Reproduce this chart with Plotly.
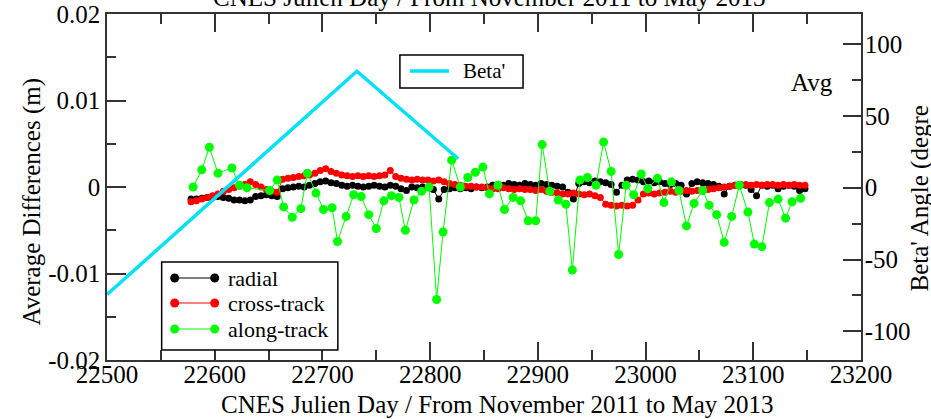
import plotly.graph_objects as go

# ---------------- data ----------------
days_rc = list(range(22578, 23149, 5))  # daily-ish sampling of radial / cross-track

radial = [
    -0.0014, -0.0014, -0.0013, -0.0012, -0.0012, -0.0011, -0.0012, -0.0013, -0.0015, -0.0015,
    -0.0016, -0.0015, -0.0011, -0.0010, -0.0009, -0.0010, -0.0011, -0.0002, -0.0001, 0.0000,
    0.0001, 0.0000, 0.0002, 0.0004, 0.0006, 0.0007, 0.0005, 0.0004, 0.0002, 0.0001,
    0.0002, 0.0001, 0.0000, 0.0001, 0.0002, 0.0001, 0.0000, 0.0002, 0.0001, -0.0002,
    -0.0004, 0.0000, -0.0001, 0.0000, -0.0001, -0.0003, -0.0014, -0.0003, -0.0002, -0.0001,
    -0.0002, -0.0001, -0.0002, 0.0000, -0.0001, 0.0000, 0.0002, 0.0003, 0.0002, 0.0004,
    0.0003, 0.0002, 0.0004, 0.0003, 0.0002, 0.0004, 0.0003, 0.0002, 0.0001, 0.0000,
    -0.0006, -0.0014, 0.0004, 0.0006, 0.0005, 0.0007, 0.0006, 0.0005, 0.0003, -0.0006,
    0.0002, 0.0008, 0.0009, 0.0008, 0.0006, 0.0007, 0.0005, 0.0006, 0.0004, 0.0003,
    0.0004, 0.0002, -0.0008, 0.0004, 0.0006, 0.0005, 0.0004, 0.0003, 0.0001, -0.0008,
    0.0001, 0.0002, 0.0003, 0.0002, -0.0003, -0.0010, 0.0002, 0.0001, 0.0002, -0.0002,
    0.0001, 0.0002, 0.0001, -0.0004, -0.0002,
]

cross_track = [
    -0.0017, -0.0016, -0.0014, -0.0012, -0.0010, -0.0008, -0.0005, -0.0003, -0.0001, 0.0001,
    0.0003, 0.0006, 0.0003, 0.0000, -0.0003, -0.0005, -0.0006, 0.0009, 0.0010, 0.0011,
    0.0012, 0.0013, 0.0014, 0.0016, 0.0019, 0.0021, 0.0018, 0.0016, 0.0014, 0.0013,
    0.0012, 0.0013, 0.0012, 0.0013, 0.0012, 0.0013, 0.0014, 0.0019, 0.0012, 0.0010,
    0.0009, 0.0008, 0.0009, 0.0008, 0.0008, 0.0007, 0.0008, 0.0006, 0.0004, 0.0003,
    0.0002, 0.0001, 0.0001, 0.0000, 0.0000, -0.0001, -0.0002, -0.0002, -0.0001, -0.0002,
    -0.0003, -0.0002, -0.0003, -0.0003, -0.0004, -0.0003, -0.0005, -0.0006, -0.0007, -0.0008,
    -0.0008, -0.0007, -0.0008, -0.0009, -0.0008, -0.0010, -0.0012, -0.0020, -0.0021, -0.0022,
    -0.0021, -0.0022, -0.0021, -0.0015, -0.0008, -0.0007, -0.0008, -0.0007, -0.0006, -0.0005,
    -0.0006, -0.0005, -0.0004, -0.0005, -0.0004, -0.0003, -0.0003, -0.0002, -0.0001, 0.0000,
    0.0001, 0.0002, 0.0002, 0.0003, 0.0002, 0.0003, 0.0002, 0.0003, 0.0003, 0.0002,
    0.0003, 0.0002, 0.0003, 0.0002, 0.0002,
]

days_along = [
    22580, 22588, 22595, 22603, 22616, 22623, 22630, 22651, 22658, 22664,
    22672, 22680, 22686, 22694, 22701, 22709, 22714, 22722, 22729, 22736,
    22743, 22750, 22757, 22764, 22771, 22777, 22785, 22792, 22799, 22806,
    22812, 22820, 22828, 22835, 22842, 22849, 22855, 22863, 22869, 22877,
    22884, 22891, 22898, 22904, 22911, 22919, 22926, 22932, 22939, 22946,
    22954, 22961, 22968, 22975, 22982, 22989, 22996, 23002, 23011, 23017,
    23024, 23031, 23038, 23045, 23053, 23059, 23066, 23073, 23080, 23087,
    23095, 23101, 23108, 23115, 23123, 23130, 23136, 23144,
]
along_track = [
    0.0000, 0.0020, 0.0046, 0.0016, 0.0022, 0.0002, -0.0001, -0.0004, 0.0008, -0.0023,
    -0.0035, -0.0025, 0.0016, -0.0007, -0.0026, -0.0024, -0.0063, -0.0034, -0.0009, -0.0011,
    -0.0032, -0.0048, -0.0016, -0.0010, -0.0012, -0.0050, -0.0015, -0.0005, 0.0000, -0.0130,
    -0.0052, 0.0031, 0.0000, 0.0011, 0.0017, 0.0023, -0.0008, 0.0002, -0.0026, -0.0012,
    -0.0016, -0.0039, -0.0039, 0.0049, -0.0005, -0.0015, -0.0020, -0.0096, 0.0008, 0.0011,
    0.0002, 0.0052, 0.0018, -0.0078, 0.0002, -0.0009, 0.0015, -0.0002, 0.0010, -0.0018,
    0.0006, -0.0004, -0.0045, -0.0019, -0.0004, -0.0021, -0.0032, -0.0064, -0.0034, 0.0002,
    -0.0029, -0.0066, -0.0069, -0.0018, -0.0014, -0.0036, -0.0017, -0.0013,
]

beta_days = [22500, 22732, 22826]
beta_angle = [-74.4, 81.1, 20.2]

x_ticks = [22500, 22600, 22700, 22800, 22900, 23000, 23100, 23200]
x_minor = [22550, 22650, 22750, 22850, 22950, 23050, 23150]
y_ticks = [-0.02, -0.01, 0, 0.01, 0.02]
y_ticktext = ["-0.02", "-0.01", "0", "0.01", "0.02"]
y_minor = [-0.015, -0.005, 0.005, 0.015]
y2_ticks = [-100, -50, 0, 50, 100]
y2_ticktext = ["-100", "-50", "0", "50", "100"]
y2_minor = [-75, -25, 25, 75]

FONT = "Liberation Serif"
AX = "#333333"
GREEN = "#00ff00"
CYAN = "#00e1f5"

fig = go.Figure()
fig.add_trace(go.Scatter(x=days_rc, y=radial, mode="lines+markers",
                         line=dict(color="black", width=1),
                         marker=dict(color="black", size=7), showlegend=False))
fig.add_trace(go.Scatter(x=days_rc, y=cross_track, mode="lines+markers",
                         line=dict(color="red", width=1),
                         marker=dict(color="red", size=7), showlegend=False))
fig.add_trace(go.Scatter(x=days_along, y=along_track, mode="lines+markers",
                         line=dict(color=GREEN, width=1),
                         marker=dict(color=GREEN, size=9), showlegend=False))
fig.add_trace(go.Scatter(x=beta_days, y=beta_angle, mode="lines", yaxis="y2",
                         line=dict(color=CYAN, width=3.5), showlegend=False))

axis_common = dict(showline=True, linecolor=AX, linewidth=1.5, ticks="inside",
                   tickcolor=AX, tickwidth=1.5, showgrid=False, zeroline=False,
                   automargin=False,
                   tickfont=dict(family=FONT, size=25, color="black"))

fig.update_layout(
    width=931, height=419, autosize=False,
    margin=dict(l=107, r=70, t=14, b=59),
    paper_bgcolor="white", plot_bgcolor="white",
    showlegend=False,
    xaxis=dict(range=[22500, 23200], tickvals=x_ticks, ticktext=[str(v) for v in x_ticks],
               ticklen=18, mirror="ticks", ticklabelstandoff=-9,
               minor=dict(tickvals=x_minor, ticklen=10, ticks="inside", tickcolor=AX, tickwidth=1.5),
               **axis_common),
    yaxis=dict(range=[-0.02, 0.02], tickvals=y_ticks, ticktext=y_ticktext, ticklen=19,
               minor=dict(tickvals=y_minor, ticklen=9, ticks="inside", tickcolor=AX, tickwidth=1.5),
               **axis_common),
    yaxis2=dict(range=[-120, 121], overlaying="y", side="right", tickvals=y2_ticks,
                ticktext=y2_ticktext, ticklen=18, ticklabelstandoff=-3,
                minor=dict(tickvals=y2_minor, ticklen=9, ticks="inside", tickcolor=AX, tickwidth=1.5),
                **axis_common),
)

# plot-area pixel -> paper helpers (plot area: x 107.4..860.6, y 14..360)
def px(xp):
    return (xp - 107.4) / 753.2

def py(yp):
    return (360 - yp) / 346

anns = [
    dict(text="CNES Julien Day / From November 2011 to May 2013", x=px(497), y=py(404),
         xanchor="center", yanchor="middle", font=dict(size=25)),
    dict(text="CNES Julien Day / From November 2011 to May 2013", x=px(489), y=1,
         xanchor="center", yanchor="bottom", yshift=1, font=dict(size=25)),
    dict(text="Average Differences (m)", x=px(32), y=py(202), textangle=-90,
         xanchor="center", yanchor="middle", font=dict(size=25)),
    dict(text="Beta' Angle (degre", x=px(920), y=py(198), textangle=-90,
         xanchor="center", yanchor="middle", font=dict(size=25)),
    dict(text="Avg", x=px(812), y=py(82), xanchor="center", yanchor="middle",
         font=dict(size=25)),
    dict(text="Beta'", x=px(461), y=py(71), xanchor="left", yanchor="middle",
         font=dict(size=21)),
]
legend_rows = [("radial", "black", 278), ("cross-track", "red", 303), ("along-track", GREEN, 329)]
shapes = [
    dict(type="rect", xref="paper", yref="paper", x0=px(400), x1=px(523), y0=py(88), y1=py(55),
         line=dict(color="black", width=1.5), fillcolor="white", layer="above"),
    dict(type="line", xref="paper", yref="paper", x0=px(410), x1=px(449), y0=py(71), y1=py(71),
         line=dict(color=CYAN, width=3.5)),
    dict(type="rect", xref="paper", yref="paper", x0=px(162), x1=px(338), y0=py(350), y1=py(262),
         line=dict(color="black", width=1.5), fillcolor="white", layer="above"),
]
for name, col, yy in legend_rows:
    shapes.append(dict(type="line", xref="paper", yref="paper", x0=px(175), x1=px(215),
                       y0=py(yy), y1=py(yy), line=dict(color=col, width=1.2)))
    for xx in (175, 215):
        shapes.append(dict(type="circle", xref="paper", yref="paper", xsizemode="pixel",
                           ysizemode="pixel", xanchor=px(xx), yanchor=py(yy),
                           x0=-4.5, x1=4.5, y0=-4.5, y1=4.5,
                           fillcolor=col, line=dict(color=col, width=0)))
    anns.append(dict(text=name, x=px(226), y=py(yy), xanchor="left", yanchor="middle",
                     font=dict(size=22)))

for a in anns:
    a.setdefault("xref", "paper")
    a.setdefault("yref", "paper")
    a["showarrow"] = False
    a["font"] = dict(family=FONT, color="black", size=a["font"]["size"])
fig.update_layout(annotations=anns, shapes=shapes)

fig.write_html("out.html")
